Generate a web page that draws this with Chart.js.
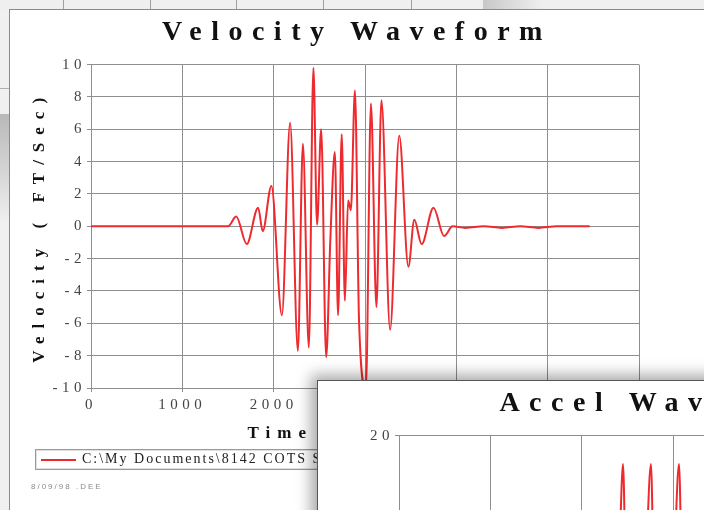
<!DOCTYPE html>
<html>
<head>
<meta charset="utf-8">
<script src="https://cdn.jsdelivr.net/npm/chart.js@4.4.1/dist/chart.umd.min.js"></script>
<style>
  html, body { margin:0; padding:0; width:704px; height:510px; overflow:hidden; background:#ececec; }
  #topstrip { position:absolute; left:0; top:0; width:704px; height:10px; background:#efefef; }
  .vl { position:absolute; top:0; width:1px; height:10px; background:#a0a0a0; }
  #topshade { position:absolute; left:483px; top:0; width:60px; height:10px; background:linear-gradient(to right, #c8c8c8, #efefef); }
  #leftstrip { position:absolute; left:0; top:10px; width:9px; height:500px; background:#f0f0f0; }
  #leftshade { position:absolute; left:0; top:104px; width:9px; height:110px; background:linear-gradient(to bottom, #b8b8b8, #f0f0f0); }
  #leftrule { position:absolute; left:0; top:78px; width:9px; height:1px; background:#b0b0b0; }
  #main { position:absolute; left:9px; top:9px; width:700px; height:510px; background:#fff; border-left:1px solid #8a8a8a; border-top:1px solid #8a8a8a; }
  #velCanvas { position:absolute; left:0; top:0; }
  #legendBox { position:absolute; left:25px; top:439px; width:660px; height:19px; border:1px solid #9a9a9a; box-shadow: inset 0 0 0 1px #e0e0e0; background:#fff; }
  #legendLine { position:absolute; left:5px; top:9px; width:35px; height:2px; background:#ee2a2e; }
  #legendText { position:absolute; left:46px; top:1px; font-family:"Liberation Serif", serif; font-size:14px; letter-spacing:2px; color:#222; white-space:nowrap; }
  #note { position:absolute; left:21px; top:472px; font-family:"Liberation Sans", sans-serif; font-size:8px; letter-spacing:2px; color:#8a8a8a; white-space:nowrap; }
  #accel { position:absolute; left:317px; top:380px; width:700px; height:300px; background:#fff; border-left:1px solid #555; border-top:1px solid #555; box-shadow:-6px -5px 14px rgba(0,0,0,0.35); }
  #accelCanvas { position:absolute; left:0; top:0; }
</style>
</head>
<body>
<div id="topstrip">
  <div class="vl" style="left:63px"></div>
  <div class="vl" style="left:150px"></div>
  <div class="vl" style="left:236px"></div>
  <div class="vl" style="left:323px"></div>
  <div class="vl" style="left:411px"></div>
  <div class="vl" style="left:483px"></div>
  <div id="topshade"></div>
</div>
<div id="leftstrip"><div id="leftrule"></div><div id="leftshade"></div></div>
<div id="main">
  <canvas id="velCanvas" width="694" height="440" style="width:694px;height:440px"></canvas>
  <div id="legendBox"><div id="legendLine"></div><div id="legendText">C:\My Documents\8142 COTS S.vel</div></div>
  <div id="note">8/09/98 .DEE</div>
</div>
<div id="accel">
  <canvas id="accelCanvas" width="694" height="440" style="width:694px;height:440px"></canvas>
</div>
<script>
// ---- Velocity waveform (time, ft/sec) ----
const velTimes  = [0, 1500, 1590, 1705, 1830, 1880, 1975, 2090, 2180, 2265, 2320, 2385, 2435, 2475, 2520, 2575, 2620, 2670, 2705, 2745, 2780, 2815, 2845, 2890, 2935, 3010, 3065, 3125, 3180, 3275, 3375, 3475, 3540, 3620, 3750, 3865, 3960, 4100, 4300, 4500, 4700, 4900, 5100, 5460];
const velValues = [0, 0, 0.6, -1.1, 1.15, -0.3, 2.5, -5.5, 6.4, -7.7, 5.1, -7.5, 9.8, 0.1, 6.0, -8.1, -0.9, 4.6, -5.5, 5.7, -4.6, 1.6, 1.0, 8.4, -5.9, -10.0, 7.6, -5.0, 7.8, -6.4, 5.6, -2.5, 0.4, -1.1, 1.15, -0.6, 0, -0.1, 0, -0.1, 0, -0.1, 0, 0];

// ---- Acceleration waveform (only its top part is visible) ----
const accelTimes  = [0, 2330, 2400, 2453, 2493, 2690, 2759, 2799, 3000, 3066, 3108, 3330, 6000];
const accelValues = [0, 0, 2, 16.5, -3, 2, 16.5, -3, 2, 16.5, -3, 0, 0];

const velTitle = 'Velocity Waveform';
const velYTitle = 'Velocity ( FT/Sec)';
const xTitle = 'Time ( Microsec)';
const accelTitle = 'Accel Waveform';
const accelYTitle = 'Accel ( G\'s)';
const seriesLabel = 'C:\\My Documents\\8142 COTS S.vel';

const SERIF = '"Liberation Serif", "Times New Roman", serif';
const GRID = '#8e8e8e';
const RED = '#ee2a2e';

const letterSpacingPlugin = {
  id: 'letterSpacing',
  afterLayout(chart) {
    if (chart.titleBlock) { chart.titleBlock.left = 0; chart.titleBlock.right = chart.width; }
  },
  afterUpdate(chart) {
    if (chart.$lsPatched) return;
    chart.$lsPatched = true;
    const ctx = chart.ctx;
    const wrap = (obj, name, ls) => {
      const orig = obj[name];
      obj[name] = function (...args) {
        const prev = ctx.letterSpacing;
        ctx.letterSpacing = ls;
        const r = orig.apply(this, args);
        ctx.letterSpacing = prev === undefined ? '0px' : prev;
        return r;
      };
    };
    if (chart.titleBlock) wrap(chart.titleBlock, 'draw', '9.5px');
    Object.values(chart.scales).forEach(s => {
      wrap(s, 'drawLabels', '4.5px');
      wrap(s, 'drawTitle', s.axis === 'x' ? '7px' : '8px');
    });
  }
};

function makeConfig(times, values, title, yTitle, yMin, yMax, yStep, label) {
  return {
    type: 'line',
    data: {
      datasets: [{
        label: label,
        data: times.map((t, i) => ({ x: t, y: values[i] })),
        borderColor: RED,
        borderWidth: 2,
        pointRadius: 0,
        cubicInterpolationMode: 'monotone',
        fill: false
      }]
    },
    options: {
      responsive: false,
      animation: false,
      events: [],
      layout: { padding: { left: 0, right: 65, top: 0, bottom: 0 } },
      plugins: {
        legend: { display: false },
        tooltip: { enabled: false },
        title: {
          display: true,
          text: title,
          color: '#111',
          font: { family: SERIF, size: 28, weight: 'bold' },
          padding: { top: 6, bottom: 15 }
        }
      },
      scales: {
        x: {
          type: 'linear',
          min: 0, max: 6000,
          afterFit: s => { s.height = 62; },
          ticks: { stepSize: 1000, color: '#444', padding: 4, maxRotation: 0,
                   callback: v => String(v),
                   font: { family: SERIF, size: 15 } },
          grid: { color: GRID, lineWidth: 1, tickLength: 4, tickColor: GRID },
          border: { color: GRID, width: 1 },
          title: { display: true, text: xTitle, color: '#111',
                   font: { family: SERIF, size: 17, weight: 'bold' },
                   padding: { top: 0, bottom: 6 } }
        },
        y: {
          min: yMin, max: yMax,
          afterFit: s => { s.width = 81; },
          ticks: { stepSize: yStep, color: '#444', padding: 1,
                   callback: v => String(v),
                   font: { family: SERIF, size: 15 } },
          grid: { color: GRID, lineWidth: 1, tickLength: 4, tickColor: GRID },
          border: { color: GRID, width: 1 },
          title: { display: true, text: yTitle, color: '#111',
                   font: { family: SERIF, size: 17, weight: 'bold' },
                   padding: { top: 19, bottom: 0 } }
        }
      }
    },
    plugins: [letterSpacingPlugin]
  };
}

new Chart(document.getElementById('velCanvas'),
  makeConfig(velTimes, velValues, velTitle, velYTitle, -10, 10, 2, seriesLabel));

new Chart(document.getElementById('accelCanvas'),
  makeConfig(accelTimes, accelValues, accelTitle, accelYTitle, -20, 20, 10, seriesLabel));
</script>
</body>
</html>
